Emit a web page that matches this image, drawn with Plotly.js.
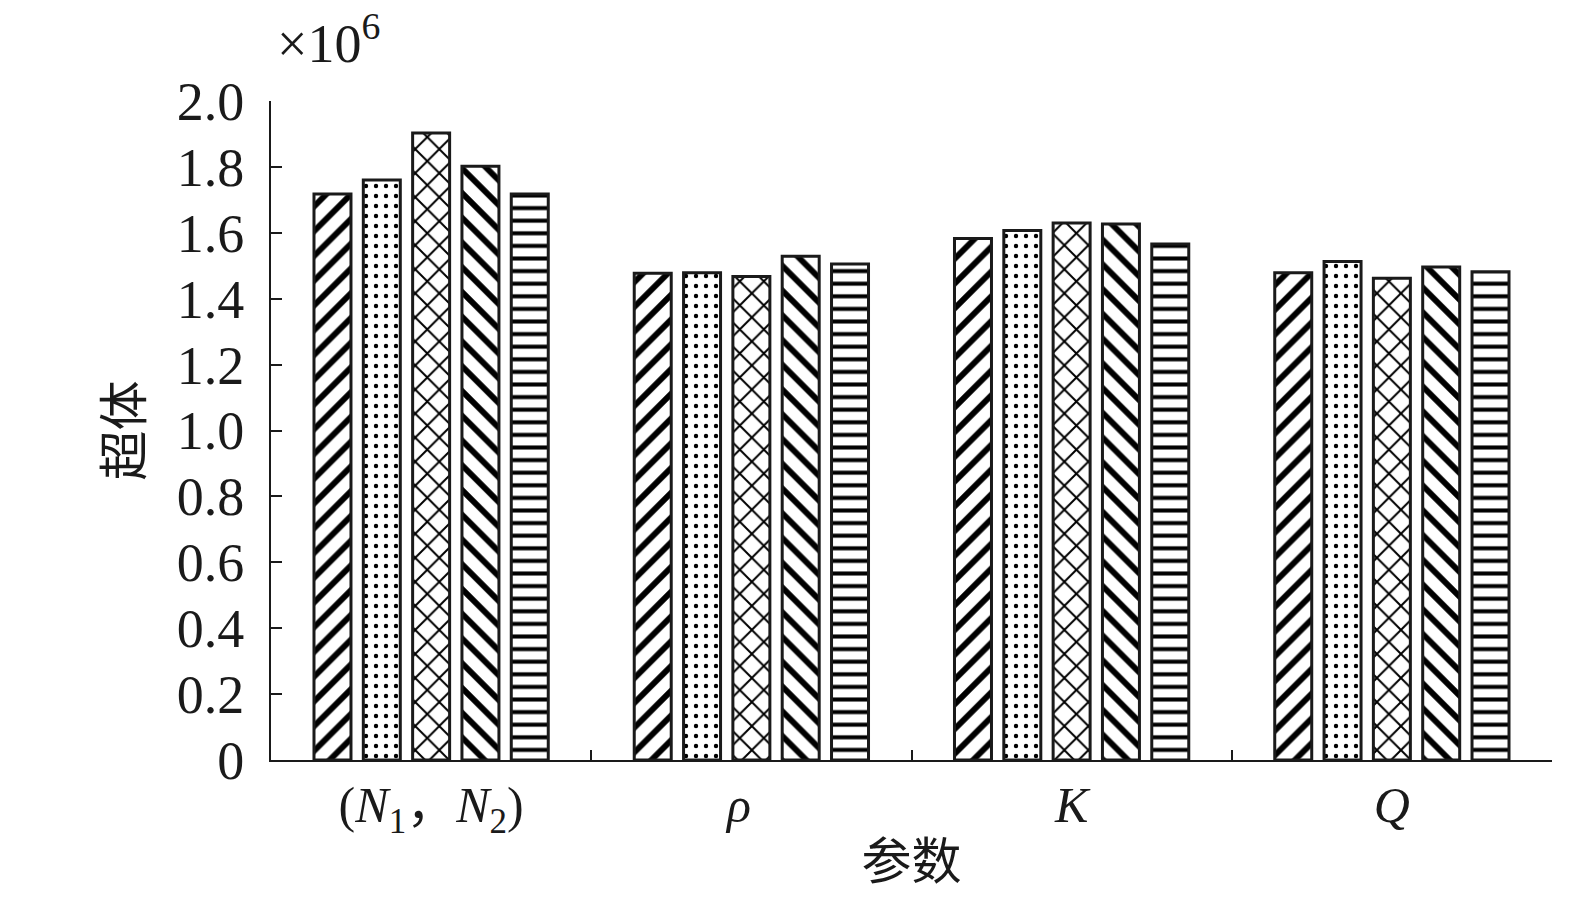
<!DOCTYPE html>
<html>
<head>
<meta charset="utf-8">
<script src="https://cdn.plot.ly/plotly-3.0.1.min.js"></script>
<style>html,body{margin:0;padding:0;background:#fff;}#chart{width:1575px;height:900px;}</style>
</head>
<body>
<div id="chart"></div>
<script>
// Data (values in units of 10^6)
const categories = ['(N1, N2)', 'rho', 'K', 'Q'];
const categoryLabels = ['(<i>N</i><sub>1</sub>，<i>N</i><sub>2</sub>)', '<i>ρ</i>\u00a0\u00a0', '<i>K</i>', '<i>Q</i>'];
const series1 = [1.718, 1.477, 1.583, 1.479];
const series2 = [1.760, 1.479, 1.607, 1.513];
const series3 = [1.903, 1.467, 1.630, 1.462];
const series4 = [1.802, 1.529, 1.627, 1.496];
const series5 = [1.718, 1.505, 1.566, 1.482];
const seriesNames = ['方案1', '方案2', '方案3', '方案4', '方案5'];
const yTickVals = [0, 0.2, 0.4, 0.6, 0.8, 1.0, 1.2, 1.4, 1.6, 1.8, 2.0];
const yTickText = ['0', '0.2', '0.4', '0.6', '0.8', '1.0', '1.2', '1.4', '1.6', '1.8', '2.0'];

const allSeries = [series1, series2, series3, series4, series5];
const patterns = [
  {shape: '/', size: 17.5, solidity: 0.34},
  {shape: '.', size: 10, solidity: 0.15},
  {shape: 'x', size: 17, solidity: 0.22},
  {shape: '\\', size: 17.5, solidity: 0.34},
  {shape: '-', size: 12.6, solidity: 0.32}
];

const serif = '"Liberation Serif", "DejaVu Serif", "Noto Sans CJK SC", serif';
const cjk = '"Liberation Serif", "Noto Sans CJK SC", serif';

const traces = allSeries.map((vals, i) => ({
  type: 'bar',
  x: categories,
  y: vals,
  name: seriesNames[i],
  marker: {
    color: 'black',
    line: {color: '#1a1a1a', width: 3},
    pattern: Object.assign({fgcolor: 'black', bgcolor: 'white', fillmode: 'replace'}, patterns[i])
  },
  hoverinfo: 'x+y'
}));

const layout = {
  width: 1575,
  height: 900,
  margin: {l: 271, r: 23, t: 101, b: 140},
  paper_bgcolor: 'white',
  plot_bgcolor: 'white',
  showlegend: false,
  barmode: 'group',
  bargap: 0.23,
  bargroupgap: 0.25,
  font: {family: serif, color: '#1a1a1a', size: 50},
  xaxis: {
    type: 'category',
    range: [-0.5, 3.5],
    tickvals: categories,
    ticktext: categoryLabels,
    tickson: 'boundaries',
    ticks: 'inside',
    ticklen: 10,
    tickwidth: 2,
    tickcolor: '#1a1a1a',
    showline: true,
    linecolor: '#1a1a1a',
    linewidth: 2,
    showgrid: false,
    zeroline: false,
    tickfont: {family: serif, size: 50, color: '#1a1a1a'},
    title: {text: '参数', font: {family: cjk, size: 50, color: '#1a1a1a'}, standoff: 4}
  },
  yaxis: {
    range: [0, 2.0],
    tickvals: yTickVals,
    ticktext: yTickText,
    ticks: 'inside',
    ticklen: 11,
    tickwidth: 2,
    tickcolor: '#1a1a1a',
    showline: true,
    linecolor: '#1a1a1a',
    linewidth: 2,
    showgrid: false,
    zeroline: false,
    ticklabelstandoff: 14,
    tickfont: {family: serif, size: 54, color: '#1a1a1a'},
    title: {text: '超体', font: {family: cjk, size: 50, color: '#1a1a1a'}, standoff: 18}
  },
  annotations: [{
    xref: 'paper', yref: 'paper',
    x: 0.003, y: 1.0,
    xanchor: 'left', yanchor: 'bottom',
    yshift: 25,
    text: '×10<sup>6</sup>',
    showarrow: false,
    font: {family: serif, size: 54, color: '#1a1a1a'}
  }]
};

Plotly.newPlot('chart', traces, layout, {displayModeBar: false, staticPlot: true});
</script>
</body>
</html>
